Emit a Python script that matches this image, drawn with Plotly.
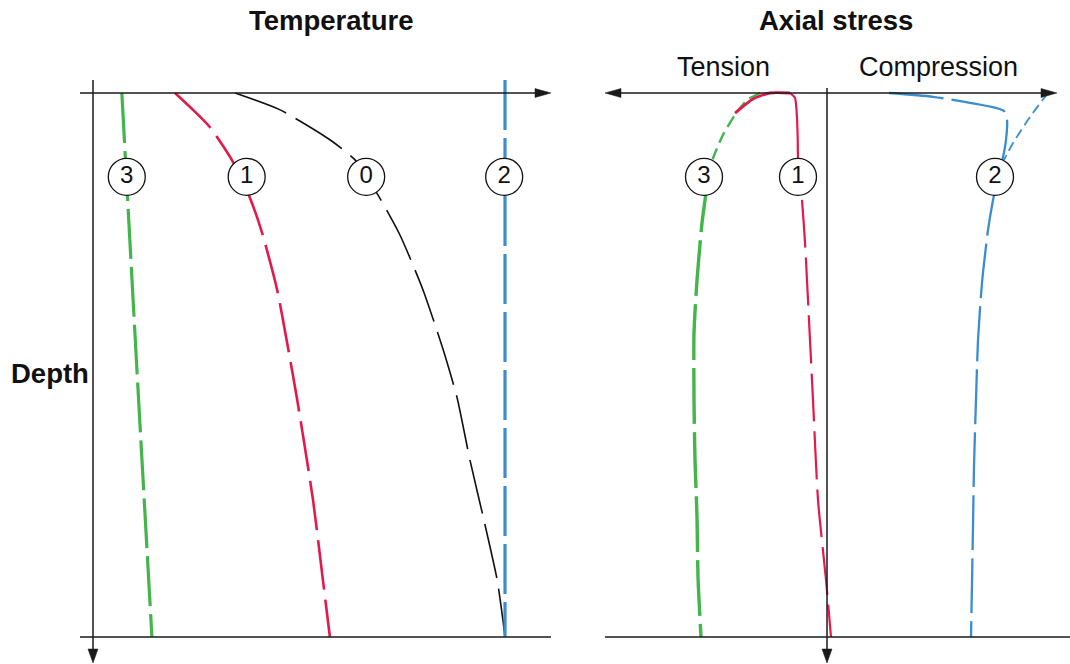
import plotly.graph_objects as go

# ---------------- data (schematic units) ----------------
# depth: 0 = surface, 1 = bottom
# Temperature panel (arbitrary temperature units)
t3_depth = [0.0, 0.5, 1.0]
t3_temp = [7.0, 10.6, 14.3]

t1_depth = [0.0, 0.029, 0.063, 0.127, 0.193, 0.256, 0.362, 0.467, 0.561, 0.748, 0.895, 1.0]
t1_temp = [19.9, 24.0, 28.4, 34.0, 38.1, 41.0, 44.7, 47.3, 49.5, 53.4, 55.8, 57.5]

t0_depth = [0.0, 0.031, 0.086, 0.123, 0.184, 0.261, 0.362, 0.472, 0.561, 0.675, 0.779, 0.895, 0.969, 1.0]
t0_temp = [34.5, 45.4, 57.5, 63.6, 68.9, 74.5, 80.1, 85.0, 88.4, 91.5, 94.7, 98.1, 99.5, 100.0]

t2_depth = [-0.024, 1.0]
t2_temp = [100.0, 100.0]

temp_labels = ["3", "1", "0", "2"]
temp_label_x = [8.2, 37.3, 66.3, 99.8]
label_depth = 0.154

# Axial stress panel (tension < 0, compression > 0)
s3_top_depth = [0.0, 0.013, 0.040, 0.077, 0.120, 0.154]
s3_top_stress = [-33.5, -40.0, -46.0, -52.0, -57.0, -59.5]
s3_depth = [0.154, 0.197, 0.239, 0.344, 0.441, 0.564, 0.675, 0.779, 0.890, 1.0]
s3_stress = [-59.5, -61.0, -62.5, -65.0, -66.5, -66.5, -66.0, -65.0, -64.5, -63.0]

s1_arc_depth = [0.0, 0.0, 0.011, 0.037]
s1_arc_stress = [-18.5, -28.5, -37.0, -46.0]

s1_top_depth = [0.0, 0.009, 0.046, 0.090]
s1_top_stress = [-18.5, -16.0, -15.0, -14.6]
s1_depth = [0.090, 0.118, 0.197, 0.274, 0.381, 0.564, 0.748, 0.895, 1.0]
s1_stress = [-14.6, -14.5, -12.5, -11.0, -9.5, -7.0, -4.5, -0.5, 2.0]

s2_depth = [0.0, 0.007, 0.028, 0.033, 0.050, 0.086, 0.118, 0.154, 0.197, 0.252, 0.349, 0.454, 0.564, 0.686, 0.797, 0.901, 1.0]
s2_stress = [31.0, 53.0, 85.0, 88.5, 90.0, 89.5, 88.0, 85.5, 83.0, 80.5, 77.5, 75.5, 74.5, 73.5, 73.0, 72.5, 72.0]

s2b_depth = [0.0, 0.044, 0.092, 0.123]
s2b_stress = [110.5, 101.5, 93.0, 88.5]

stress_labels = ["3", "1", "2"]
stress_label_x = [-61.5, -14.5, 84.0]

# ---------------- styles ----------------
GREEN = "#43b54a"
RED = "#e4194b"
BLUE = "#3a8dcf"
BLACK = "#111111"
AX = "#1a1a1a"
FONT = "Liberation Sans, Arial, Helvetica, sans-serif"

W, H = 1070, 664

fig = go.Figure()

def line(x, y, color, width, dash, axis="x"):
    fig.add_trace(go.Scatter(x=x, y=y, mode="lines", xaxis=axis, yaxis="y",
                             line=dict(color=color, width=width, dash=dash, shape="spline", smoothing=0.6),
                             hoverinfo="skip", showlegend=False))

# temperature curves
line(t3_temp, t3_depth, GREEN, 3.2, "50px,8px")
line(t1_temp, t1_depth, RED, 2.6, "50px,10px")
line(t0_temp, t0_depth, BLACK, 1.6, "55px,11px")
line(t2_temp, t2_depth, BLUE, 3.2, "50px,8px")

# stress curves
line(s3_top_stress, s3_top_depth, GREEN, 2.4, "12px,6px", "x2")
line(s3_stress, s3_depth, GREEN, 3.4, "56px,8px", "x2")
line(s1_arc_stress, s1_arc_depth, RED, 2.8, "solid", "x2")
line(s1_top_stress, s1_top_depth, RED, 2.2, "solid", "x2")
line(s1_stress, s1_depth, RED, 2.2, "48px,10px", "x2")
line(s2_stress, s2_depth, BLUE, 2.3, "55px,8px", "x2")
line(s2b_stress, s2b_depth, BLUE, 1.8, "10px,5px", "x2")

# circled labels
def labels(x, txt, axis):
    fig.add_trace(go.Scatter(x=x, y=[label_depth] * len(x), mode="markers+text", xaxis=axis, yaxis="y",
                             text=txt, textposition="middle center",
                             textfont=dict(family=FONT, size=24, color=BLACK),
                             marker=dict(size=37, color="white", line=dict(color=BLACK, width=1.3)),
                             cliponaxis=False, hoverinfo="skip", showlegend=False))

labels(temp_label_x, temp_labels, "x")
labels(stress_label_x, stress_labels, "x2")

# ---------------- frame (axes drawn as shapes, pixel -> paper) ----------------
def P(x, y):
    return x / W, 1 - y / H

shapes = []
def seg(x0, y0, x1, y1, w=1.5):
    a, b = P(x0, y0); c, d = P(x1, y1)
    shapes.append(dict(type="line", xref="paper", yref="paper", x0=a, y0=b, x1=c, y1=d,
                       line=dict(color=AX, width=w), layer="above"))

def tri(pts):
    path = "M " + " L ".join(f"{P(x, y)[0]:.5f},{P(x, y)[1]:.5f}" for x, y in pts) + " Z"
    shapes.append(dict(type="path", xref="paper", yref="paper", path=path,
                       fillcolor=AX, line=dict(color=AX, width=0.5), layer="above"))

# left panel
seg(93, 80, 93, 650)
tri([(88, 649), (98, 649), (93, 663)])
seg(80, 93, 537, 93)
tri([(535, 88.5), (535, 97.5), (551, 93)])
seg(80, 637, 551, 637)

# right panel
seg(827, 88, 827, 650)
tri([(822, 649), (832, 649), (827, 663)])
seg(619, 93, 1043, 93)
tri([(621, 88.5), (621, 97.5), (605, 93)])
tri([(1041, 88.5), (1041, 97.5), (1057, 93)])
seg(605, 637, 1070, 637)

# ---------------- texts ----------------
ann = []
def txt(x, y, s, size=20, bold=False):
    a, b = P(x, y)
    ann.append(dict(xref="paper", yref="paper", x=a, y=b, text=f"<b>{s}</b>" if bold else s,
                    showarrow=False, xanchor="center", yanchor="middle",
                    font=dict(family=FONT, size=size, color=BLACK)))

txt(331, 20, "Temperature", 27.5, True)
txt(836, 20, "Axial stress", 27.5, True)
txt(723, 67, "Tension", 27)
txt(938, 67, "Compression", 27)
txt(50, 373, "Depth", 27.5, True)

# ---------------- layout ----------------
hidden = dict(visible=False, showgrid=False, zeroline=False, fixedrange=True)
fig.update_layout(
    width=W, height=H,
    margin=dict(l=0, r=0, t=0, b=0),
    paper_bgcolor="white", plot_bgcolor="white",
    xaxis=dict(domain=[0, 1], range=[-93 / 4.12, (W - 93) / 4.12], **hidden),
    xaxis2=dict(domain=[0, 1], range=[-827 / 2, (W - 827) / 2], overlaying="x", **hidden),
    yaxis=dict(domain=[0, 1], range=[(H - 93) / 544, -93 / 544], **hidden),
    shapes=shapes, annotations=ann, showlegend=False,
)

fig.write_html("out.html", config={"displayModeBar": False},
               post_script="document.body.style.margin='0px';document.body.style.overflow='hidden';")
